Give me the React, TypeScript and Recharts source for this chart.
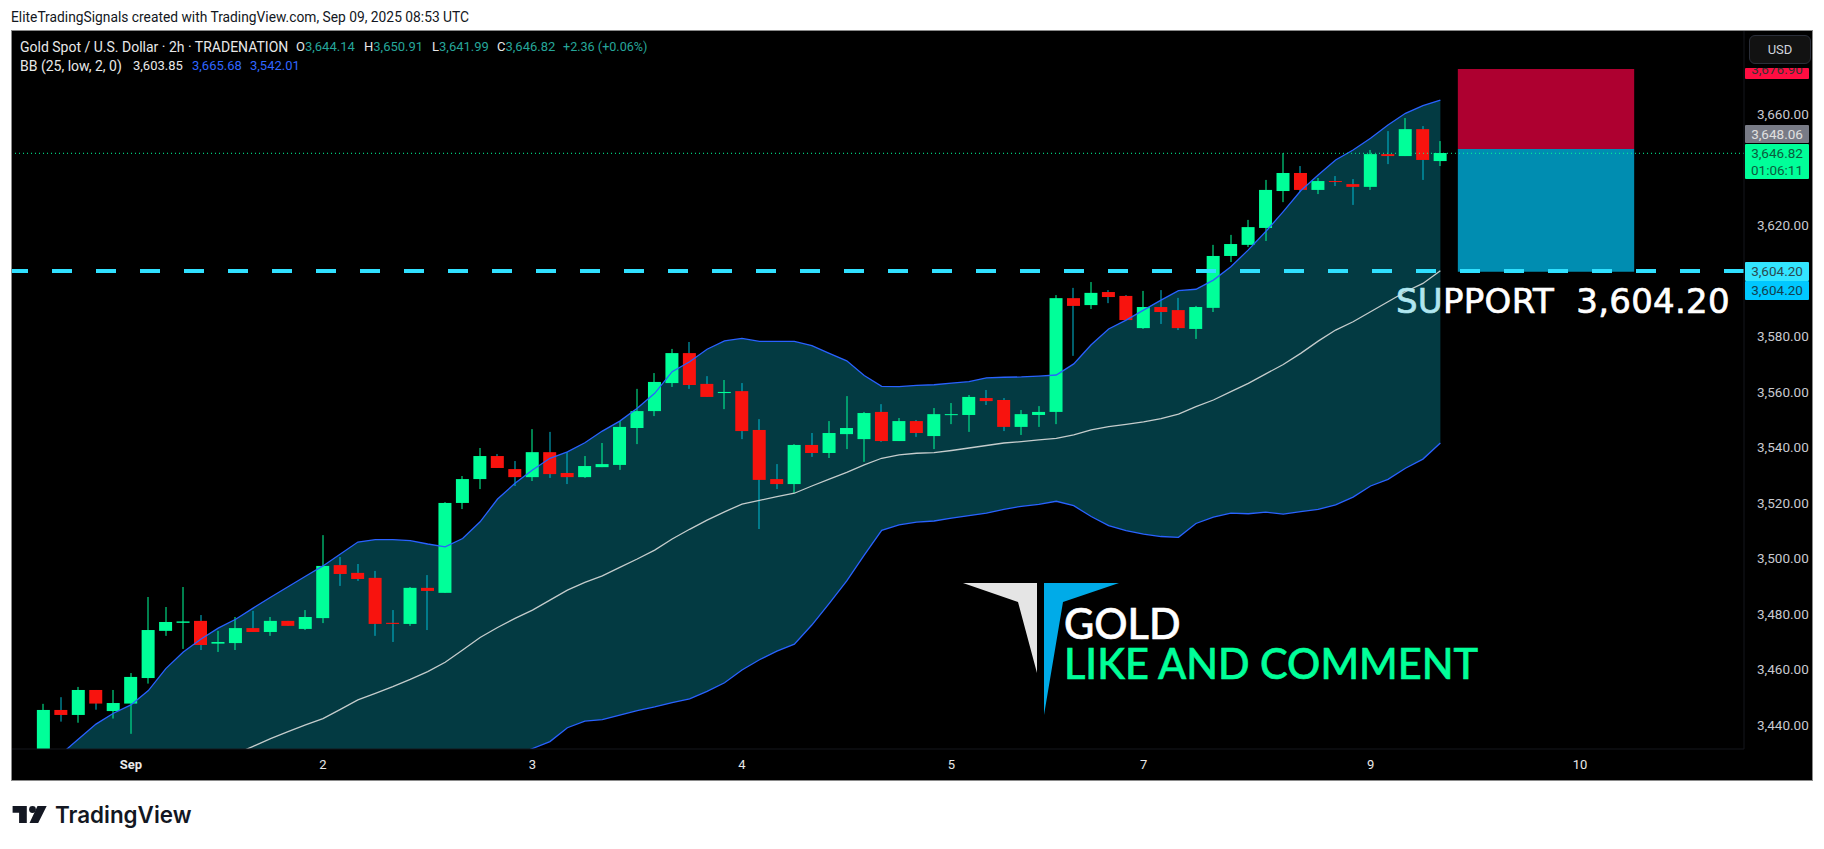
import React from 'react';
import { Area, Bar, ComposedChart, Line, ReferenceArea, ReferenceLine, XAxis, YAxis } from 'recharts';

// candles, 2h bars
const opens = [3425.0, 3445.6, 3443.8, 3452.8, 3445.2, 3447.9, 3457.1, 3474.1, 3477.0, 3477.7, 3469.5, 3469.7, 3475.1, 3473.7, 3477.7, 3474.8, 3478.7, 3497.8, 3495.0, 3493.2, 3477.0, 3476.6, 3489.6, 3487.8, 3520.2, 3528.8, 3537.1, 3532.4, 3529.5, 3538.5, 3531.0, 3529.5, 3533.1, 3533.9, 3547.2, 3553.3, 3563.4, 3574.2, 3563.1, 3559.8, 3560.5, 3546.5, 3528.8, 3527.0, 3541.1, 3538.2, 3545.0, 3543.2, 3553.0, 3542.5, 3549.7, 3544.3, 3551.9, 3551.9, 3558.0, 3557.3, 3547.6, 3551.9, 3553.0, 3594.0, 3591.5, 3596.2, 3594.8, 3583.2, 3590.8, 3589.7, 3582.9, 3590.5, 3609.2, 3613.2, 3619.3, 3632.6, 3639.1, 3633.0, 3636.2, 3635.1, 3634.1, 3645.9, 3645.2, 3654.9, 3643.4];
const closes = [3445.6, 3443.8, 3452.8, 3447.9, 3448.1, 3457.5, 3474.4, 3477.3, 3477.5, 3469.0, 3470.1, 3475.1, 3473.7, 3477.7, 3475.9, 3479.1, 3497.5, 3494.6, 3492.8, 3476.6, 3476.6, 3489.6, 3488.5, 3520.2, 3528.8, 3537.1, 3532.8, 3529.5, 3538.5, 3530.6, 3529.5, 3533.5, 3534.2, 3547.6, 3553.3, 3563.8, 3574.2, 3562.7, 3558.4, 3560.2, 3546.1, 3528.5, 3527.0, 3541.1, 3538.2, 3545.4, 3547.2, 3552.6, 3542.5, 3549.7, 3545.4, 3552.2, 3552.2, 3558.4, 3556.9, 3547.6, 3552.2, 3553.0, 3594.0, 3591.2, 3595.9, 3594.4, 3586.1, 3590.8, 3589.0, 3583.2, 3590.8, 3609.2, 3613.5, 3619.6, 3633.0, 3639.1, 3633.0, 3636.2, 3636.0, 3634.1, 3645.9, 3645.2, 3654.9, 3643.8, 3646.3];
const highs = [3447.8, 3450.2, 3453.9, 3452.8, 3452.8, 3458.9, 3486.3, 3482.7, 3489.9, 3479.8, 3474.1, 3479.1, 3481.3, 3479.1, 3477.7, 3481.6, 3508.6, 3500.7, 3498.2, 3495.7, 3481.6, 3489.9, 3494.2, 3520.5, 3529.9, 3540.0, 3537.8, 3535.3, 3546.8, 3545.8, 3538.5, 3537.1, 3541.8, 3549.7, 3561.3, 3567.0, 3575.7, 3578.2, 3565.9, 3564.5, 3563.4, 3550.4, 3534.2, 3541.4, 3545.4, 3549.7, 3558.7, 3553.0, 3555.8, 3550.8, 3550.1, 3554.4, 3556.2, 3559.1, 3560.9, 3558.0, 3553.7, 3555.1, 3595.1, 3597.7, 3599.8, 3596.9, 3595.1, 3596.6, 3596.9, 3594.1, 3591.2, 3613.2, 3616.8, 3622.2, 3636.6, 3646.3, 3641.6, 3637.3, 3638.0, 3636.9, 3647.4, 3654.2, 3658.9, 3656.0, 3650.6];
const lows = [3420.0, 3441.4, 3441.0, 3445.7, 3442.5, 3437.0, 3455.1, 3472.3, 3467.6, 3467.2, 3466.5, 3467.2, 3473.7, 3472.3, 3475.9, 3474.4, 3476.9, 3490.3, 3492.1, 3472.3, 3470.1, 3475.9, 3474.4, 3487.8, 3518.0, 3525.2, 3532.8, 3526.3, 3528.1, 3529.2, 3527.0, 3529.2, 3533.1, 3532.1, 3541.4, 3551.5, 3562.0, 3561.3, 3558.4, 3554.0, 3543.2, 3510.8, 3525.2, 3523.8, 3536.8, 3536.4, 3539.6, 3535.0, 3542.2, 3542.5, 3544.0, 3539.6, 3548.6, 3545.8, 3555.5, 3546.1, 3544.7, 3547.6, 3548.6, 3573.2, 3590.1, 3592.2, 3586.1, 3582.9, 3584.7, 3582.5, 3579.3, 3589.0, 3607.0, 3612.4, 3614.6, 3628.6, 3632.3, 3631.5, 3634.4, 3627.6, 3633.0, 3642.3, 3645.2, 3636.6, 3641.6];

// BB (25, low, 2, 0)
const upperBand = [3422.8, 3429.7, 3435.1, 3440.5, 3444.4, 3447.4, 3452.6, 3460.5, 3466.5, 3471.1, 3475.1, 3478.3, 3482.3, 3486.2, 3490.0, 3493.8, 3497.5, 3501.8, 3506.1, 3507.0, 3507.0, 3506.6, 3505.4, 3504.4, 3507.4, 3513.4, 3521.6, 3527.3, 3532.1, 3536.3, 3538.6, 3541.9, 3546.1, 3549.7, 3554.3, 3559.7, 3567.5, 3571.1, 3575.6, 3578.6, 3579.5, 3578.4, 3578.4, 3578.4, 3576.9, 3574.1, 3571.4, 3566.1, 3562.2, 3562.1, 3562.6, 3562.8, 3563.4, 3563.9, 3565.3, 3565.5, 3565.6, 3565.9, 3566.3, 3570.3, 3577.2, 3582.9, 3586.1, 3589.7, 3593.3, 3596.7, 3597.2, 3600.5, 3605.3, 3611.4, 3618.0, 3625.2, 3632.7, 3638.4, 3643.8, 3647.4, 3651.6, 3656.4, 3660.6, 3663.4, 3665.4];
const basisBand = [3404.0, 3406.5, 3409.0, 3411.5, 3414.0, 3416.5, 3419.0, 3421.5, 3424.0, 3426.0, 3428.0, 3429.7, 3432.5, 3435.3, 3437.8, 3440.2, 3442.5, 3445.8, 3449.2, 3451.6, 3454.0, 3456.6, 3459.4, 3462.8, 3467.2, 3471.7, 3475.3, 3478.6, 3481.6, 3485.2, 3488.8, 3491.6, 3493.9, 3497.0, 3500.0, 3503.2, 3507.2, 3510.7, 3514.0, 3517.0, 3519.8, 3521.1, 3522.5, 3523.7, 3526.3, 3528.8, 3531.2, 3533.9, 3536.3, 3537.5, 3538.1, 3538.3, 3539.1, 3540.0, 3540.9, 3541.8, 3542.3, 3542.9, 3543.5, 3544.7, 3546.5, 3547.7, 3548.5, 3549.4, 3550.6, 3552.2, 3554.9, 3557.3, 3560.3, 3563.3, 3566.7, 3570.1, 3574.1, 3578.5, 3582.5, 3585.5, 3589.1, 3592.7, 3596.3, 3599.3, 3603.85];
const lowerBand = [3385.0, 3386.0, 3387.0, 3389.0, 3391.0, 3393.0, 3395.0, 3397.0, 3399.0, 3401.0, 3403.0, 3405.0, 3407.0, 3409.0, 3411.0, 3413.0, 3415.0, 3417.0, 3419.0, 3420.0, 3421.0, 3422.0, 3423.0, 3424.0, 3425.0, 3426.0, 3427.0, 3429.0, 3431.7, 3434.2, 3439.2, 3441.6, 3442.1, 3443.7, 3445.4, 3446.7, 3448.2, 3449.6, 3452.3, 3455.4, 3460.0, 3463.7, 3466.8, 3469.3, 3476.2, 3484.0, 3492.1, 3501.4, 3510.3, 3512.3, 3513.3, 3513.7, 3514.7, 3515.6, 3516.5, 3517.9, 3519.0, 3519.7, 3520.8, 3519.2, 3515.3, 3512.0, 3510.2, 3509.0, 3508.1, 3507.8, 3512.8, 3515.1, 3516.5, 3516.3, 3516.9, 3516.2, 3517.1, 3517.9, 3519.5, 3522.3, 3526.3, 3528.7, 3532.7, 3536.0, 3541.8];

const priceTicks = [3660, 3620, 3580, 3560, 3540, 3520, 3500, 3480, 3460, 3440];
const timeTicks = [5, 16, 28, 40, 52, 63, 76, 88];
const timeLabels = ['Sep', '2', '3', '4', '5', '7', '9', '10'];

// levels as they sit on the drawn scale
const supportLevel = 3603.8;
const boxBottom = 3603.5;
const lastPrice = 3646.2;
const entryPrice = 3647.75;
const stopPrice = 3676.6;

const table = opens.map((open, i) => ({
  i,
  open,
  close: closes[i],
  high: highs[i],
  low: lows[i],
  range: [lows[i], highs[i]],
  band: [lowerBand[i], upperBand[i]],
  upper: upperBand[i],
  basis: basisBand[i],
  lower: lowerBand[i],
}));

const UP = '#00ff99';
const DOWN = '#f8130e';
const WICK_DOWN = '#00bcd4';
const UI_FONT = 'Roboto, sans-serif';

const Candle = (props: any) => {
  const { x, y, width, height, payload } = props;
  const unit = height / (payload.high - payload.low);
  const isUp = payload.close >= payload.open;
  const top = y + (payload.high - Math.max(payload.open, payload.close)) * unit;
  const bodyHeight = Math.max(Math.abs(payload.close - payload.open) * unit, 1);
  const cx = Math.round(x + width / 2);
  return (
    <g>
      <line x1={cx} x2={cx} y1={y} y2={y + height} stroke={isUp ? UP : WICK_DOWN} strokeWidth={1} />
      <rect x={x} y={top} width={width} height={bodyHeight} fill={isUp ? UP : DOWN} />
    </g>
  );
};

const TimeTick = (props: any) => {
  const { x, y, payload } = props;
  const label = timeLabels[timeTicks.indexOf(payload.value)];
  return (
    <text x={x} y={y + 7} textAnchor="middle" dominantBaseline="central" fill="#e8e8e8" fontFamily={UI_FONT} fontSize={13} fontWeight={label === 'Sep' ? 700 : 400}>
      {label}
    </text>
  );
};

const PriceTag = ({ top, height, bg, color, lines }: any) => (
  <div style={{ position: 'absolute', left: 1745, top, width: 64, height, background: bg, color, fontFamily: UI_FONT, fontSize: 13.5, textAlign: 'center', overflow: 'hidden', borderRadius: 1 }}>
    {lines.map((t: string) => (
      <div key={t} style={{ height: 17, lineHeight: '18px' }}>{t}</div>
    ))}
  </div>
);

export default function App() {
  return (
    <div style={{ position: 'absolute', left: 0, top: 0, width: 1824, height: 849, background: '#fff', overflow: 'hidden' }}>
      <div style={{ position: 'absolute', left: 11, top: 8, fontFamily: UI_FONT, fontSize: 13.8, lineHeight: '18px', color: '#131722', whiteSpace: 'nowrap' }}>
        EliteTradingSignals created with TradingView.com, Sep 09, 2025 08:53 UTC
      </div>

      <div style={{ position: 'absolute', left: 11, top: 30, width: 1800, height: 749, background: '#000', border: '1px solid #8a8a8a' }} />

      <div style={{ position: 'absolute', left: 12, top: 31 }}>
        <ComposedChart width={1800} height={749} data={table} margin={{ top: 0, right: 0, bottom: 0, left: 0 }}>
          <XAxis
            dataKey="i"
            type="number"
            domain={[-1.81, 97.39]}
            allowDataOverflow
            ticks={timeTicks}
            tick={<TimeTick />}
            tickLine={false}
            axisLine={{ stroke: '#15171c' }}
            height={31}
            interval={0}
          />
          <YAxis
            orientation="right"
            type="number"
            domain={[3431.53, 3690.27]}
            allowDataOverflow
            ticks={priceTicks}
            tickFormatter={(v: number) => v.toLocaleString('en-US', { minimumFractionDigits: 2 })}
            tick={{ fill: '#c8cad0', fontFamily: UI_FONT, fontSize: 13.5, dy: -0.5 }}
            tickLine={false}
            axisLine={{ stroke: '#15171c' }}
            tickMargin={7}
            width={68}
            interval={0}
          />
          <Area dataKey="band" stroke="none" fill="#033a42" fillOpacity={1} dot={false} activeDot={false} isAnimationActive={false} />
          <ReferenceArea x1={81} x2={91.1} y1={entryPrice} y2={stopPrice} fill="#ae0030" fillOpacity={1} stroke="none" />
          <ReferenceArea x1={81} x2={91.1} y1={boxBottom} y2={entryPrice} fill="#008db1" fillOpacity={1} stroke="none" />
          <Line dataKey="upper" stroke="#2962ff" strokeWidth={1.3} dot={false} activeDot={false} isAnimationActive={false} />
          <Line dataKey="lower" stroke="#2962ff" strokeWidth={1.3} dot={false} activeDot={false} isAnimationActive={false} />
          <Line dataKey="basis" stroke="#c5cccc" strokeWidth={1.3} dot={false} activeDot={false} isAnimationActive={false} />
          <Bar dataKey="range" barSize={13} shape={<Candle />} isAnimationActive={false} />
          <ReferenceLine y={lastPrice} stroke={UP} strokeWidth={1} strokeDasharray="1 3" />
          <ReferenceLine y={supportLevel} stroke="#30e0ff" strokeWidth={4} strokeDasharray="20 24" />
        </ComposedChart>
      </div>

      {/* legend rows */}
      <div style={{ position: 'absolute', left: 20, top: 38, fontFamily: UI_FONT, fontSize: 14, lineHeight: '18px', color: '#e8e8e8', whiteSpace: 'nowrap' }}>
        Gold Spot / U.S. Dollar · 2h · TRADENATION
      </div>
      {[
        ['O', 296, '3,644.14'],
        ['H', 364, '3,650.91'],
        ['L', 432, '3,641.99'],
        ['C', 497, '3,646.82'],
      ].map(([k, left, v]) => (
        <div key={k as string} style={{ position: 'absolute', left: left as number, top: 38, fontFamily: UI_FONT, fontSize: 13, lineHeight: '18px', color: '#e8e8e8', whiteSpace: 'nowrap' }}>
          {k}<span style={{ color: '#26a69a' }}>{v}</span>
        </div>
      ))}
      <div style={{ position: 'absolute', left: 563, top: 38, fontFamily: UI_FONT, fontSize: 12.6, lineHeight: '18px', color: '#26a69a', whiteSpace: 'nowrap' }}>
        +2.36 (+0.06%)
      </div>
      <div style={{ position: 'absolute', left: 20, top: 57, fontFamily: UI_FONT, fontSize: 14, lineHeight: '18px', color: '#e8e8e8', whiteSpace: 'nowrap' }}>
        BB (25, low, 2, 0)
      </div>
      <div style={{ position: 'absolute', left: 133, top: 57, fontFamily: UI_FONT, fontSize: 13, lineHeight: '18px', color: '#e8e8e8' }}>3,603.85</div>
      <div style={{ position: 'absolute', left: 192, top: 57, fontFamily: UI_FONT, fontSize: 13, lineHeight: '18px', color: '#2f66ff' }}>3,665.68</div>
      <div style={{ position: 'absolute', left: 250, top: 57, fontFamily: UI_FONT, fontSize: 13, lineHeight: '18px', color: '#2f66ff' }}>3,542.01</div>

      {/* price scale tags */}
      <div style={{ position: 'absolute', left: 1745, top: 68, width: 64, height: 11, background: '#ff0d41', borderRadius: 1, overflow: 'hidden', color: '#333', fontFamily: UI_FONT, fontSize: 13.5, textAlign: 'center', lineHeight: '2px' }}>
        3,676.90
      </div>
      <div style={{ position: 'absolute', left: 1749, top: 35, width: 60, height: 27, background: '#121212', border: '1px solid #2a2e39', borderRadius: 6, color: '#d1d4dc', fontFamily: UI_FONT, fontSize: 13, textAlign: 'center', lineHeight: '27px' }}>
        USD
      </div>
      <PriceTag top={125} height={18} bg="#787b86" color="#e0e0e0" lines={['3,648.06']} />
      <PriceTag top={144} height={35} bg={UP} color="#0b5c3d" lines={['3,646.82', '01:06:11']} />
      <PriceTag top={262} height={19} bg="#33e5ff" color="#2a4a50" lines={['3,604.20']} />
      <PriceTag top={281} height={19} bg="#00c8ff" color="#12404e" lines={['3,604.20']} />

      <svg width={1824} height={849} style={{ position: 'absolute', left: 0, top: 0, pointerEvents: 'none' }}>
        <text x={1396} y={313} fontFamily="'DejaVu Sans', sans-serif" fontSize={34} fill="#fff" xmlSpace="preserve" stroke="#fff" strokeWidth={0.7} letterSpacing={0.28}>
          <tspan fill="#b0e6ef" stroke="#b0e6ef">SU</tspan>PPORT  3,604.20
        </text>

        <polygon points="963,583 1037,583 1037,673 1018,602" fill="#e5e5e5" />
        <polygon points="1044,583 1119,583 1063,602 1044,715" fill="#00abe8" />
        <text x={1064} y={639} fontFamily="Lato, sans-serif" fontSize={41.5} fontWeight={500} fill="#fff" stroke="#fff" strokeWidth={0.6}>GOLD</text>
        <text x={1064} y={679} fontFamily="Lato, sans-serif" fontSize={41.5} fontWeight={500} fill={UP} stroke={UP} strokeWidth={0.6}>LIKE AND COMMENT</text>

        <polygon points="12.6,806 26.8,806 26.8,823 19.1,823 19.1,812.7 12.6,812.7" fill="#131722" />
        <circle cx={32.5} cy={809.5} r={3.4} fill="#131722" />
        <polygon points="37.5,806 46.7,806 38.2,823 29.5,823" fill="#131722" />
        <text x={55} y={823} fontFamily="Inter, sans-serif" fontSize={22.4} fontWeight={600} fill="#131722">TradingView</text>
      </svg>
    </div>
  );
}
